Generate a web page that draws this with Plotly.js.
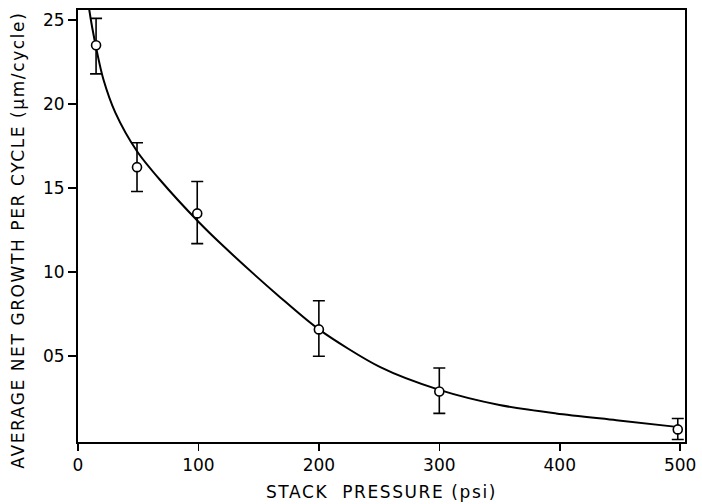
<!DOCTYPE html>
<html>
<head>
<meta charset="utf-8">
<script src="https://cdn.plot.ly/plotly-3.0.1.min.js"></script>
<style>
html,body{margin:0;padding:0;background:#fff;}
#chart{width:702px;height:504px;}
.xtitle{letter-spacing:1.6px;}
.annotation-text{letter-spacing:1.6px;}
</style>
</head>
<body>
<div id="chart"></div>
<script>
// Measured points (stack pressure psi, avg net growth µm/cycle)
var pressure = [15, 49, 99, 200, 300, 498];
var growth = [2.35, 1.625, 1.35, 0.66, 0.29, 0.065];
var errPlus = [0.16, 0.145, 0.19, 0.17, 0.14, 0.065];
var errMinus = [0.17, 0.145, 0.18, 0.16, 0.13, 0.06];

// Fitted curve
var curveX = [8.5, 9.4, 15.5, 21, 31, 49, 68, 100, 120, 168, 200, 251, 300, 350, 397, 447, 497];
var curveY = [2.62, 2.56, 2.32, 2.15, 1.95, 1.72, 1.55, 1.30, 1.16, 0.85, 0.66, 0.435, 0.30, 0.21, 0.16, 0.12, 0.08];

var xTicks = [0, 100, 200, 300, 400, 500];
var yTickVals = [0.5, 1.0, 1.5, 2.0, 2.5];
var yTickText = ["05", "10", "15", "20", "25"];

var xTitle = "STACK  PRESSURE (psi)";
var yTitle = "AVERAGE NET GROWTH PER CYCLE (μm/cycle)";

var fontFam = "DejaVu Sans, sans-serif";

var traces = [
  {
    x: curveX, y: curveY, type: "scatter", mode: "lines",
    line: {color: "#000", width: 2, shape: "spline", smoothing: 0.8},
    hoverinfo: "skip", showlegend: false
  },
  {
    x: pressure, y: growth, type: "scatter", mode: "markers",
    marker: {symbol: "circle", size: 9, color: "#fff", line: {color: "#000", width: 1.6}},
    error_y: {type: "data", symmetric: false, array: errPlus, arrayminus: errMinus,
              color: "#000", thickness: 1.6, width: 6},
    showlegend: false
  }
];

var layout = {
  width: 702, height: 504,
  margin: {l: 78, r: 17, t: 10, b: 62},
  paper_bgcolor: "#fff", plot_bgcolor: "#fff",
  showlegend: false,
  xaxis: {
    range: [0, 504], tickvals: xTicks, ticktext: xTicks.map(String),
    ticks: "outside", ticklen: 7, tickwidth: 1.6, tickcolor: "#000",
    showline: true, linecolor: "#000", linewidth: 2, mirror: true,
    showgrid: false, zeroline: false,
    tickfont: {family: fontFam, size: 17, color: "#000"},
    title: {text: xTitle, font: {family: fontFam, size: 17, color: "#000"}, standoff: 12}
  },
  yaxis: {
    range: [-0.01, 2.56], tickvals: yTickVals, ticktext: yTickText,
    ticks: "outside", ticklen: 8, tickwidth: 1.6, tickcolor: "#000",
    showline: true, linecolor: "#000", linewidth: 2, mirror: true,
    showgrid: false, zeroline: false,
    tickfont: {family: fontFam, size: 17, color: "#000"}
  },
  annotations: [{
    text: yTitle, textangle: -90, showarrow: false,
    xref: "paper", yref: "paper", x: -0.099, y: 0.468,
    xanchor: "center", yanchor: "middle",
    font: {family: fontFam, size: 17, color: "#000"}
  }]
};

Plotly.newPlot("chart", traces, layout, {displayModeBar: false, staticPlot: true});
</script>
</body>
</html>
